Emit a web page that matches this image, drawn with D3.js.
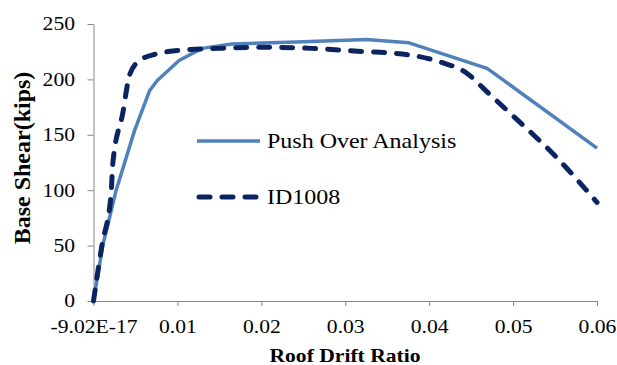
<!DOCTYPE html>
<html>
<head>
<meta charset="utf-8">
<script src="https://cdn.jsdelivr.net/npm/d3@7"></script>
<style>
  html, body { margin: 0; padding: 0; background: #fff; }
  svg { display: block; }
  text { font-family: "Liberation Serif", "Times New Roman", serif; fill: #000; }
</style>
</head>
<body>
<svg id="chart" width="617" height="365"></svg>
<script>
// Roof drift ratio vs. base shear (kips)
const pushDrift = [0, 0.0011, 0.0027, 0.0049, 0.0067, 0.0076, 0.0102, 0.0129, 0.0165, 0.025, 0.0325, 0.0376, 0.0469, 0.06];
const pushShear = [0, 50, 100, 154, 190, 199, 217, 228, 232, 234, 236, 233, 210, 138];

const idDrift = [0, 0.001, 0.0021, 0.0023, 0.0035, 0.0043, 0.0055, 0.0075, 0.01, 0.015, 0.02, 0.026, 0.0325, 0.0352, 0.0412, 0.0444, 0.047, 0.05, 0.055, 0.06];
const idShear = [0, 50, 97, 124, 170, 204, 217, 223, 226, 228, 229, 228, 225, 224, 216, 206, 188, 167, 131, 89];

const seriesNames = ["Push Over Analysis", "ID1008"];
const xTickValues = [0, 0.01, 0.02, 0.03, 0.04, 0.05, 0.06];
const xTickLabels = ["-9.02E-17", "0.01", "0.02", "0.03", "0.04", "0.05", "0.06"];
const yTickValues = [0, 50, 100, 150, 200, 250];
const yTickLabels = ["0", "50", "100", "150", "200", "250"];

const svg = d3.select("#chart");
const axisColor = "#868686";
const pushColor = "#4F81BD";
const idColor = "#0B2461";
const stretch = 1.2;

const x = d3.scaleLinear().domain([0, 0.06]).range([93.5, 597]);
const y = d3.scaleLinear().domain([0, 250]).range([301, 24]);

// Axes
const xAxis = svg.append("g")
  .attr("transform", `translate(0,${y(0)})`)
  .call(d3.axisBottom(x).tickValues(xTickValues)
    .tickFormat((d, i) => xTickLabels[i]).tickSize(5).tickSizeOuter(0));
xAxis.select(".domain").attr("stroke", axisColor);
xAxis.selectAll(".tick line").attr("stroke", axisColor);
xAxis.selectAll(".tick text")
  .attr("y", 32).attr("dy", 0)
  .attr("transform", `scale(${stretch},1)`)
  .style("font-size", "18px")
  .style("font-family", "'Liberation Serif', serif");

const yAxis = svg.append("g")
  .attr("transform", `translate(${x(0)},0)`)
  .call(d3.axisLeft(y).tickValues(yTickValues)
    .tickFormat((d, i) => yTickLabels[i]).tickSize(6).tickSizeOuter(0));
yAxis.select(".domain").attr("stroke", axisColor);
yAxis.selectAll(".tick line").attr("stroke", axisColor);
yAxis.selectAll(".tick text")
  .attr("x", -18.5 / stretch).attr("dy", "0.33em")
  .attr("transform", `scale(${stretch},1)`)
  .style("font-size", "18px")
  .style("font-family", "'Liberation Serif', serif");

// Axis titles
svg.append("text")
  .attr("transform", `translate(345,362) scale(${stretch},1)`)
  .attr("text-anchor", "middle")
  .style("font-size", "18px").style("font-weight", "bold")
  .text("Roof Drift Ratio");

svg.append("text")
  .attr("transform", "translate(30,158) rotate(-90)")
  .attr("text-anchor", "middle")
  .style("font-size", "24px").style("font-weight", "bold")
  .text("Base Shear(kips)");

// Series lines
const pushData = pushDrift.map((d, i) => [d, pushShear[i]]);
const idData = idDrift.map((d, i) => [d, idShear[i]]);

svg.append("path")
  .datum(pushData)
  .attr("fill", "none")
  .attr("stroke", pushColor)
  .attr("stroke-width", 3.5)
  .attr("stroke-linejoin", "round")
  .attr("d", d3.line().x(d => x(d[0])).y(d => y(d[1])));

svg.append("path")
  .datum(idData)
  .attr("fill", "none")
  .attr("stroke", idColor)
  .attr("stroke-width", 5)
  .attr("stroke-linecap", "round")
  .attr("stroke-dasharray", "11,12")
  .attr("d", d3.line().curve(d3.curveMonotoneX).x(d => x(d[0])).y(d => y(d[1])));

// Legend
const legend = svg.append("g");
const legendRows = [
  { name: seriesNames[0], y: 141, color: pushColor, width: 3.5, dash: null, cap: "butt" },
  { name: seriesNames[1], y: 197, color: idColor, width: 5, dash: "11,12", cap: "round" }
];
legendRows.forEach(r => {
  legend.append("line")
    .attr("x1", r.cap === "round" ? 199 : 197).attr("x2", r.cap === "round" ? 258 : 260)
    .attr("y1", r.y).attr("y2", r.y)
    .attr("stroke", r.color).attr("stroke-width", r.width)
    .attr("stroke-linecap", r.cap)
    .attr("stroke-dasharray", r.dash);
  legend.append("text")
    .attr("transform", `translate(267,${r.y + 7}) scale(${stretch},1)`)
    .style("font-size", "20px")
    .text(r.name);
});
</script>
</body>
</html>
